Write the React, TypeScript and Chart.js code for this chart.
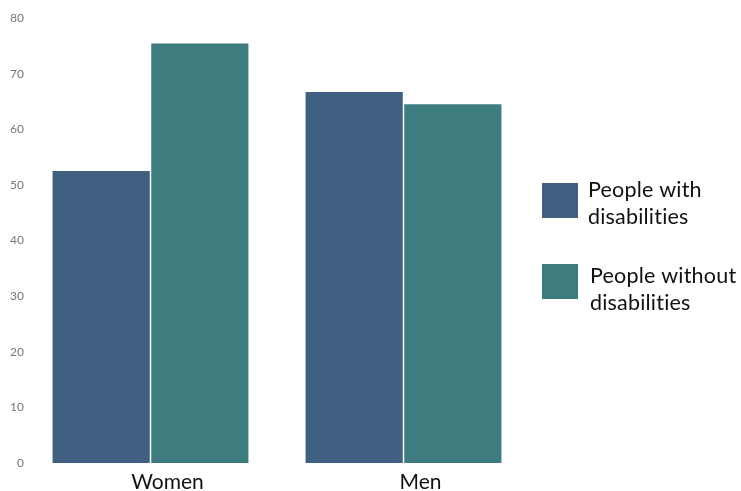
import React, { useEffect, useRef } from "react";
import { Chart, registerables } from "chart.js";

Chart.register(...registerables);

const categories = ["Women", "Men"];
const withDisabilities = [52.5, 66.7];
const withoutDisabilities = [75.4, 64.5];
const seriesLabels = [["People with", "disabilities"], ["People without", "disabilities"]];
const yTicks = [0, 10, 20, 30, 40, 50, 60, 70, 80];

const COLOR_WITH = "#406082";
const COLOR_WITHOUT = "#3D7D80";

const legendPlugin = {
  id: "customLegend",
  afterDraw(chart: any) {
    const ctx = chart.ctx;
    const items = [
      { box: [542, 183], text: [588, 190], ds: 0 },
      { box: [542, 264], text: [590, 276], ds: 1 },
    ];
    ctx.save();
    items.forEach((it) => {
      const ds = chart.data.datasets[it.ds];
      ctx.fillStyle = ds.backgroundColor;
      ctx.fillRect(it.box[0], it.box[1], 36, 35);
      ctx.fillStyle = "#111";
      ctx.font = "21.5px Lato";
      if ("letterSpacing" in ctx) (ctx as any).letterSpacing = "0.2px";
      ctx.textBaseline = "middle";
      ctx.textAlign = "left";
      const lines: string[] = ds.label;
      lines.forEach((l, i) => ctx.fillText(l, it.text[0], it.text[1] + i * 27.5));
    });
    ctx.restore();
  },
};

export default function App() {
  const ref = useRef<HTMLCanvasElement>(null);
  useEffect(() => {
    document.body.style.margin = "0";
    const chart = new Chart(ref.current!, {
      type: "bar",
      data: {
        labels: categories,
        datasets: [
          { label: seriesLabels[0] as any, data: withDisabilities, backgroundColor: COLOR_WITH },
          { label: seriesLabels[1] as any, data: withoutDisabilities, backgroundColor: COLOR_WITHOUT },
        ],
      },
      options: {
        animation: false,
        responsive: false,
        layout: { padding: { top: 18, right: 211, left: 0, bottom: 0 } },
        plugins: { legend: { display: false }, tooltip: { enabled: false } },
        datasets: { bar: { categoryPercentage: 0.78, barPercentage: 0.985 } } as any,
        scales: {
          x: {
            grid: { display: false, drawTicks: false },
            border: { display: false },
            ticks: { color: "#111", font: { family: "Lato", size: 21 }, padding: 7, labelOffset: 17 },
            afterFit(s: any) { s.height = 28; },
          },
          y: {
            min: 0,
            max: 80,
            grid: { display: false, drawTicks: false },
            border: { display: false },
            afterBuildTicks(s: any) { s.ticks = yTicks.map((v) => ({ value: v })); },
            ticks: { color: "#777", font: { family: "Lato", size: 12 }, padding: 0 },
            afterFit(s: any) { s.width = 24; },
          },
        },
      },
      plugins: [legendPlugin],
    });
    return () => chart.destroy();
  }, []);
  return (
    <div style={{ position: "absolute", left: 0, top: 0, width: 741, height: 491 }}>
      <canvas ref={ref} width={741} height={491} />
    </div>
  );
}
